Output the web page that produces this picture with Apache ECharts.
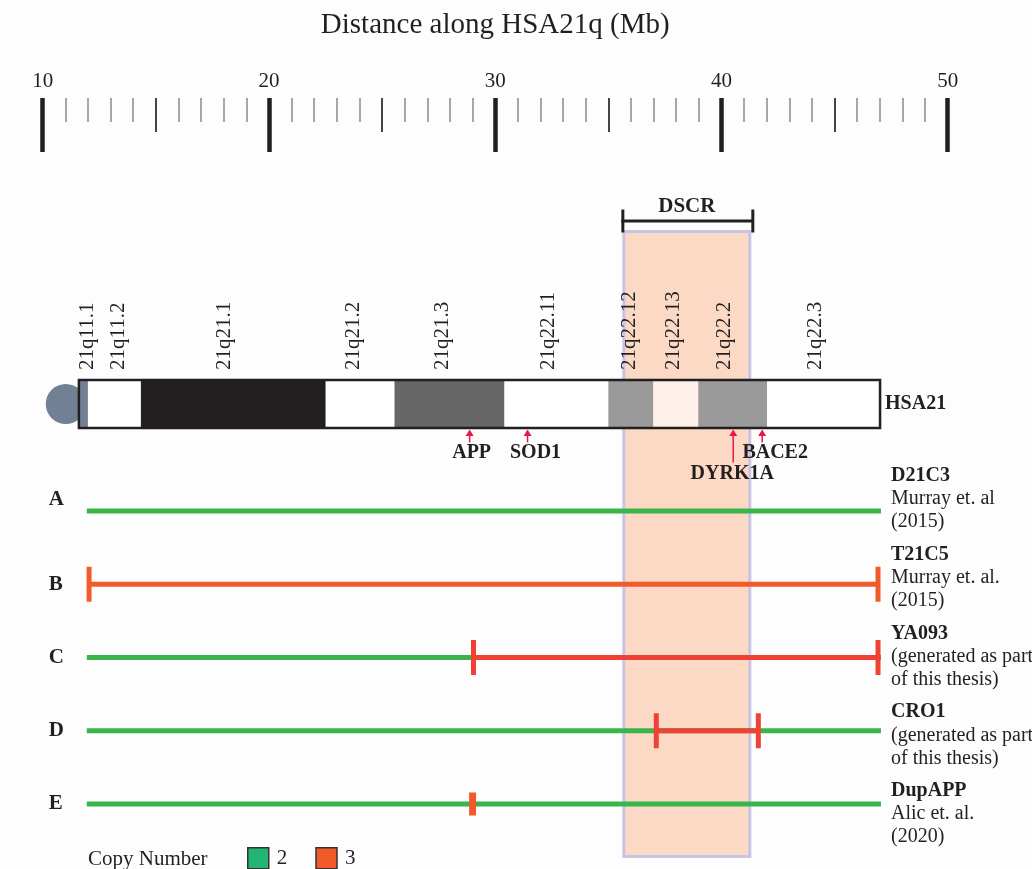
<!DOCTYPE html>
<html>
<head>
<meta charset="utf-8">
<script src="https://cdn.jsdelivr.net/npm/echarts@6/dist/echarts.min.js"></script>
<style>
  html, body { margin: 0; padding: 0; background: #fdfdfd; }
  #chart { width: 1032px; height: 869px; }
</style>
</head>
<body>
<div id="chart"></div>
<script>
// Ruler along HSA21q, in Mb
const rulerMin = 10;
const rulerMax = 50;

// Cytogenetic bands of HSA21q (Mb) and their Giemsa stain
const bandNames  = ['21q11.1', '21q11.2', '21q21.1', '21q21.2', '21q21.3', '21q22.11', '21q22.12', '21q22.13', '21q22.2', '21q22.3'];
const bandStarts = [11.60, 12.00, 14.34, 22.51, 25.55, 30.41, 35.00, 36.99, 38.98, 42.02];
const bandEnds   = [12.00, 14.34, 22.51, 25.55, 30.41, 35.00, 36.99, 38.98, 42.02, 47.01];
const bandStains = ['acen', 'gneg', 'gpos100', 'gneg', 'gpos75', 'gneg', 'gpos50', 'gpos25', 'gpos50', 'gneg'];
const bandLabelAt = [11.96, 13.37, 18.05, 23.74, 27.67, 32.35, 35.93, 37.87, 40.12, 44.14];
const centromereAt = 11.02;

// Genes marked on the chromosome (Mb)
const geneNames = ['APP', 'SOD1', 'DYRK1A', 'BACE2'];
const genePos   = [28.87, 31.43, 40.52, 41.80];

// Down syndrome critical region (Mb)
const dscrStart = 35.62;
const dscrEnd   = 41.32;

// Mouse models: row letters, strain names and sources
const rows = ['A', 'B', 'C', 'D', 'E'];
const strainNames = ['D21C3', 'T21C5', 'YA093', 'CRO1', 'DupAPP'];
const strainSources = [
  ['Murray et. al', '(2015)'],
  ['Murray et. al.', '(2015)'],
  ['(generated as part', 'of this thesis)'],
  ['(generated as part', 'of this thesis)'],
  ['Alic et. al.', '(2020)']
];

// Copy-number segments per row: [start Mb, end Mb, row]
const copy2Segments = [
  [11.95, 47.05, 0],
  [11.95, 47.05, 2],
  [11.95, 47.05, 3],
  [11.95, 47.05, 4]
];
const copy3Segments = [
  [12.05, 46.92, 1],
  [29.04, 46.92, 2],
  [37.12, 41.63, 3],
  [29.00, 29.00, 4]
];

// ---- styling ----
const INK = '#231f20';
const SERIF = '"Liberation Serif", "DejaVu Serif", serif';
const stainColor = { acen: '#718095', gneg: '#ffffff', gpos100: '#231f20', gpos75: '#666666', gpos50: '#9a9a9a', gpos25: '#fdf0e8' };
const copy2Color = '#39b54a';
const copy2Legend = '#22b573';
const copy3Color = '#f15a29';
const copy3Tone = { 2: '#ef4136', 3: '#ef4136' };
const geneColor = '#e8174a';
const geneLayout = {
  APP:    { stem: 13, dy: 23, dx: 2 },
  SOD1:   { stem: 13, dy: 23, dx: 8 },
  DYRK1A: { stem: 33, dy: 44, dx: -1 },
  BACE2:  { stem: 13, dy: 23, dx: 13 }
};

const X_LEFT = 42.7, X_RIGHT = 84.3;
const RULER_Y = 98;

function hiddenX(gridIndex) {
  return { gridIndex, type: 'value', min: rulerMin, max: rulerMax, show: false };
}
function hiddenY(gridIndex) {
  return { gridIndex, type: 'value', min: 0, max: 1, show: false };
}
function cartesian(grid) {
  return { coordinateSystem: 'cartesian2d', xAxisIndex: grid, yAxisIndex: grid };
}
// Ruler tick axis hanging below the ruler line
function rulerTicks(gridIndex, interval, length, color, width, z, minor) {
  return {
    gridIndex, type: 'value', min: rulerMin, max: rulerMax, interval, position: 'bottom', z,
    axisLine: { show: false },
    axisTick: { show: true, length, lineStyle: { color, width } },
    minorTick: minor ? Object.assign({ show: true }, minor) : { show: false },
    axisLabel: { show: false },
    splitLine: { show: false }, minorSplitLine: { show: false }
  };
}

const chart = echarts.init(document.getElementById('chart'), null, { renderer: 'canvas' });

const option = {
  animation: false,
  backgroundColor: '#fdfdfd',
  textStyle: { fontFamily: SERIF, color: INK },
  title: {
    text: 'Copy Number',
    left: 88, top: 849, padding: 0,
    textStyle: { fontFamily: SERIF, fontSize: 21, fontWeight: 'normal', color: INK }
  },
  legend: {
    data: ['2', '3'],
    left: 247, top: 847, padding: 0,
    icon: 'rect', itemWidth: 21, itemHeight: 21, itemGap: 28,
    itemStyle: { borderColor: '#333', borderWidth: 1.5 },
    textStyle: { fontFamily: SERIF, fontSize: 21, color: INK, padding: [0, 0, 0, 3] },
    selectedMode: false
  },
  grid: [
    { left: X_LEFT, right: X_RIGHT, top: RULER_Y - 40, height: 40, outerBoundsMode: 'none' }, // ruler, 10 Mb ticks
    { left: X_LEFT, right: X_RIGHT, top: 380, height: 48, outerBoundsMode: 'none' },         // chromosome
    { left: X_LEFT, right: X_RIGHT, top: 230, height: 628, outerBoundsMode: 'none' },        // DSCR
    { left: X_LEFT, right: X_RIGHT, top: 511, height: 293, outerBoundsMode: 'none' },        // model rows
    { left: 891, width: 130, top: 499, height: 315, outerBoundsMode: 'none' },               // strain labels
    { left: X_LEFT, right: X_RIGHT, top: RULER_Y - 40, height: 40, outerBoundsMode: 'none' }, // ruler, 5 Mb and 1 Mb ticks
    { left: X_LEFT, right: X_RIGHT, top: RULER_Y, height: 40, outerBoundsMode: 'none' }       // ruler labels and title
  ],
  xAxis: [
    rulerTicks(0, 10, 54, INK, 4.5, 5),
    hiddenX(1), hiddenX(2), hiddenX(3), hiddenX(4),
    rulerTicks(5, 5, 34, '#444', 2, 0, { splitNumber: 5, length: 24, lineStyle: { color: '#8a8a8a', width: 1.5 } }),
    {
      gridIndex: 6, type: 'value', min: rulerMin, max: rulerMax, interval: 10, position: 'top',
      name: 'Distance along HSA21q (Mb)', nameLocation: 'middle', nameGap: 58,
      nameTextStyle: { fontFamily: SERIF, fontSize: 29, color: INK },
      axisLine: { show: false }, axisTick: { show: false },
      axisLabel: { show: true, margin: 6, fontFamily: SERIF, fontSize: 21, color: INK },
      splitLine: { show: false }
    }
  ],
  yAxis: [
    hiddenY(0), hiddenY(1), hiddenY(2),
    {
      gridIndex: 3, type: 'category', data: rows, inverse: true, boundaryGap: false,
      axisLine: { show: false }, axisTick: { show: false }, splitLine: { show: false },
      axisLabel: {
        inside: true, margin: 6, interval: 0,
        formatter: (value, idx) => idx === 0 ? '{up|' + value + '}' : '{m|' + value + '}',
        rich: {
          m: { fontFamily: SERIF, fontSize: 21, fontWeight: 'bold', color: INK },
          up: { fontFamily: SERIF, fontSize: 21, fontWeight: 'bold', color: INK, padding: [0, 0, 22, 0] }
        }
      }
    },
    {
      gridIndex: 4, type: 'category', data: strainNames, inverse: true, boundaryGap: false,
      axisLine: { show: false }, axisTick: { show: false }, splitLine: { show: false },
      axisLabel: {
        inside: true, margin: 0, interval: 0, align: 'left',
        formatter: (value, idx) => ['{b|' + value + '}'].concat(strainSources[idx].map(s => '{n|' + s + '}')).join('\n'),
        rich: {
          b: { fontFamily: SERIF, fontSize: 20, fontWeight: 'bold', color: INK, lineHeight: 23 },
          n: { fontFamily: SERIF, fontSize: 20, color: INK, lineHeight: 23 }
        }
      }
    },
    hiddenY(5), hiddenY(6)
  ],
  series: [
    // Down syndrome critical region with its bracket
    Object.assign(cartesian(2), {
      type: 'custom', name: 'DSCR', z: 1, silent: true,
      data: [[dscrStart, dscrEnd]],
      renderItem(params, api) {
        const tl = api.coord([api.value(0), 1]);
        const br = api.coord([api.value(1), 0]);
        const mid = (tl[0] + br[0]) / 2;
        const by = tl[1] - 9;
        return {
          type: 'group',
          children: [
            { type: 'rect', shape: { x: tl[0] + 1.5, y: tl[1] + 1.5, width: br[0] - tl[0] - 3, height: br[1] - tl[1] - 3 },
              style: { fill: '#fbd9c4', stroke: '#c9c4e2', lineWidth: 3 } },
            { type: 'rect', shape: { x: tl[0] - 1, y: by - 1.5, width: br[0] - tl[0] + 3, height: 3 }, style: { fill: INK } },
            { type: 'rect', shape: { x: tl[0] - 1, y: by - 11.5, width: 3, height: 23 }, style: { fill: INK } },
            { type: 'rect', shape: { x: br[0], y: by - 11.5, width: 3, height: 23 }, style: { fill: INK } },
            { type: 'text', x: mid, y: by - 14,
              style: { text: 'DSCR', fill: INK, fontFamily: SERIF, fontSize: 21, fontWeight: 'bold', align: 'center', verticalAlign: 'middle' } }
          ]
        };
      }
    }),
    // Centromere
    Object.assign(cartesian(1), {
      type: 'custom', name: 'centromere', z: 2, silent: true,
      data: [[centromereAt, 0.5]],
      renderItem(params, api) {
        const c = api.coord([api.value(0), api.value(1)]);
        return { type: 'circle', shape: { cx: c[0], cy: c[1], r: 20 }, style: { fill: stainColor.acen } };
      }
    }),
    // Bands
    Object.assign(cartesian(1), {
      type: 'custom', name: 'bands', z: 3, silent: true,
      data: bandStarts.map((s, i) => [s, bandEnds[i], i]),
      renderItem(params, api) {
        const tl = api.coord([api.value(0), 1]);
        const br = api.coord([api.value(1), 0]);
        return { type: 'rect', shape: { x: tl[0], y: tl[1], width: br[0] - tl[0], height: br[1] - tl[1] },
          style: { fill: stainColor[bandStains[api.value(2)]] } };
      }
    }),
    // Chromosome outline and its name
    Object.assign(cartesian(1), {
      type: 'custom', name: 'outline', z: 4, silent: true,
      data: [[bandStarts[0], bandEnds[bandEnds.length - 1]]],
      renderItem(params, api) {
        const tl = api.coord([api.value(0), 1]);
        const br = api.coord([api.value(1), 0]);
        return {
          type: 'group',
          children: [
            { type: 'rect', shape: { x: tl[0], y: tl[1], width: br[0] - tl[0], height: br[1] - tl[1] },
              style: { fill: 'none', stroke: INK, lineWidth: 2.5 } },
            { type: 'text', x: br[0] + 5, y: (tl[1] + br[1]) / 2,
              style: { text: 'HSA21', fill: INK, fontFamily: SERIF, fontSize: 20, fontWeight: 'bold', align: 'left', verticalAlign: 'middle' } }
          ]
        };
      }
    }),
    // Band labels
    Object.assign(cartesian(1), {
      type: 'custom', name: 'band labels', z: 5, silent: true,
      data: bandLabelAt.map((x, i) => [x, i]),
      renderItem(params, api) {
        const p = api.coord([api.value(0), 1]);
        return { type: 'text', x: p[0], y: p[1] - 10, rotation: Math.PI / 2,
          style: { text: bandNames[api.value(1)], fill: INK, fontFamily: SERIF, fontSize: 21, align: 'left', verticalAlign: 'middle' } };
      }
    }),
    // Gene markers
    Object.assign(cartesian(1), {
      type: 'custom', name: 'genes', z: 5, silent: true,
      data: genePos.map((x, i) => [x, i]),
      renderItem(params, api) {
        const name = geneNames[api.value(1)];
        const lay = geneLayout[name];
        const p = api.coord([api.value(0), 0]);
        const tip = p[1] + 1.5;
        return {
          type: 'group',
          children: [
            { type: 'rect', shape: { x: p[0] - 0.75, y: tip + 4, width: 1.5, height: lay.stem - 4 }, style: { fill: geneColor } },
            { type: 'polygon', shape: { points: [[p[0], tip], [p[0] - 4, tip + 6.5], [p[0] + 4, tip + 6.5]] }, style: { fill: geneColor } },
            { type: 'text', x: p[0] + lay.dx, y: tip + lay.dy,
              style: { text: name, fill: INK, fontFamily: SERIF, fontSize: 20, fontWeight: 'bold', align: 'center', verticalAlign: 'middle' } }
          ]
        };
      }
    }),
    // Copy number 2
    Object.assign(cartesian(3), {
      type: 'custom', name: '2', z: 6, silent: true,
      itemStyle: { color: copy2Legend },
      encode: { x: [0, 1], y: 2 },
      data: copy2Segments,
      renderItem(params, api) {
        const s = api.coord([api.value(0), api.value(2)]);
        const e = api.coord([api.value(1), api.value(2)]);
        return { type: 'rect', shape: { x: s[0], y: s[1] - 2.5, width: e[0] - s[0], height: 5 }, style: { fill: copy2Color } };
      }
    }),
    // Copy number 3
    Object.assign(cartesian(3), {
      type: 'custom', name: '3', z: 7, silent: true,
      itemStyle: { color: copy3Color },
      encode: { x: [0, 1], y: 2 },
      data: copy3Segments,
      renderItem(params, api) {
        const row = api.value(2);
        const s = api.coord([api.value(0), row]);
        const e = api.coord([api.value(1), row]);
        const color = copy3Tone[row] || copy3Color;
        if (e[0] - s[0] < 4) {
          return { type: 'rect', shape: { x: s[0] - 3.5, y: s[1] - 11.5, width: 7, height: 23 }, style: { fill: color } };
        }
        return {
          type: 'group',
          children: [
            { type: 'rect', shape: { x: s[0], y: s[1] - 2.5, width: e[0] - s[0], height: 5 }, style: { fill: color } },
            { type: 'rect', shape: { x: s[0] - 2.5, y: s[1] - 17.5, width: 5, height: 35 }, style: { fill: color } },
            { type: 'rect', shape: { x: e[0] - 2.5, y: s[1] - 17.5, width: 5, height: 35 }, style: { fill: color } }
          ]
        };
      }
    })
  ]
};

chart.setOption(option);
</script>
</body>
</html>
